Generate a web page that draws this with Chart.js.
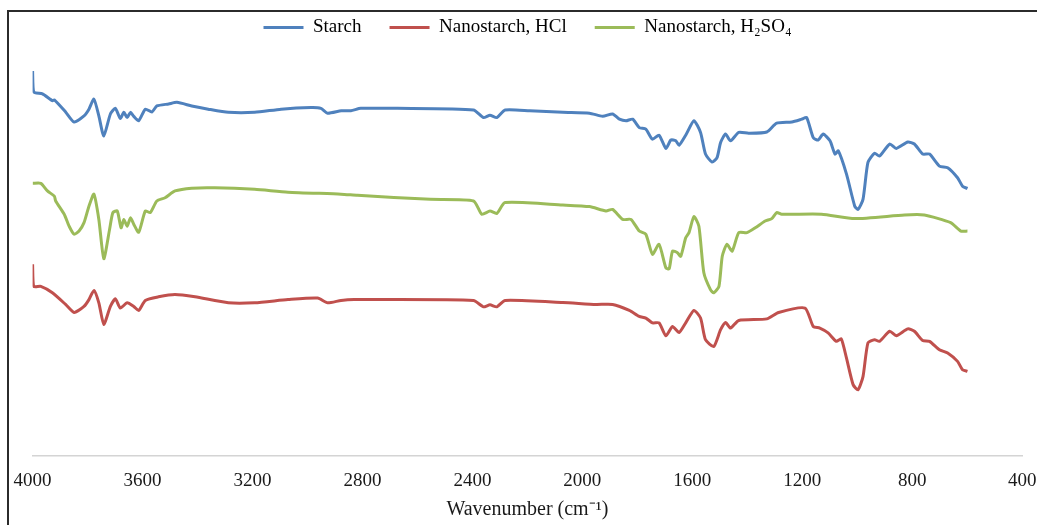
<!DOCTYPE html>
<html>
<head>
<meta charset="utf-8">
<script src="https://cdn.jsdelivr.net/npm/chart.js@4"></script>
<style>
    body { margin: 0; overflow: hidden; background: #fff; }
    #wrap { position: absolute; left: 0; top: -10px; }
    #frame { position: absolute; left: 7px; top: 10px; width: 1200px; height: 700px;
             border: 2px solid #2b2b2b; pointer-events: none; }
</style>
</head>
<body>
<div id="wrap"><canvas id="ftir" width="1050" height="535"></canvas></div>
<div id="frame"></div>
<script>
// FTIR spectra, wavenumber (cm-1) vs transmittance (arbitrary %)
const starchWn = [4000, 3996, 3964, 3928, 3921, 3880, 3849, 3813, 3795, 3777, 3759, 3741, 3717, 3699, 3681, 3668, 3656, 3644, 3632, 3614,
    3590, 3566, 3548, 3505, 3475, 3421, 3361, 3288, 3192, 3096, 2987, 2951, 2927, 2877, 2842, 2806, 2673, 2396, 2360, 2336,
    2311, 2281, 2191, 2071, 1974, 1926, 1890, 1865, 1841, 1817, 1793, 1769, 1745, 1721, 1696, 1678, 1660, 1648, 1624, 1594,
    1570, 1552, 1528, 1510, 1497, 1479, 1461, 1431, 1395, 1329, 1293, 1238, 1202, 1184, 1160, 1142, 1124, 1099, 1081, 1069,
    1039, 1009, 997, 979, 961, 937, 919, 882, 858, 816, 792, 762, 737, 701, 671, 635, 617, 599];
const starchT = [96.0, 90.8, 90.3, 88.6, 88.8, 85.8, 83.3, 84.8, 86.5, 89.0, 84.8, 79.8, 85.3, 86.7, 84.2, 85.7, 84.4, 85.7, 84.7, 83.6,
    86.5, 85.8, 87.3, 87.8, 88.2, 87.3, 86.5, 85.7, 85.7, 86.5, 86.9, 86.7, 85.5, 86.1, 86.1, 86.7, 86.7, 86.3, 84.4, 85.0,
    84.4, 86.3, 86.1, 85.7, 85.5, 84.7, 85.3, 84.0, 83.6, 84.0, 81.9, 81.5, 79.0, 80.0, 76.7, 78.8, 78.6, 77.5, 80.0, 83.6,
    80.7, 75.3, 73.3, 74.4, 78.2, 80.3, 78.6, 80.7, 80.5, 80.8, 83.0, 83.3, 84.0, 84.4, 79.4, 78.8, 80.3, 78.6, 75.3, 76.1,
    70.3, 62.3, 61.5, 64.0, 73.2, 75.5, 74.8, 77.8, 76.7, 78.3, 77.8, 75.3, 75.3, 72.3, 71.9, 69.4, 67.3, 66.7];

const hclWn = [4000, 3996, 3970, 3928, 3880, 3849, 3813, 3795, 3777, 3759, 3741, 3717, 3699, 3681, 3656, 3632, 3614, 3590, 3542, 3482,
    3409, 3288, 3192, 3071, 2963, 2927, 2878, 2830, 2396, 2360, 2336, 2311, 2281, 2071, 1950, 1890, 1829, 1793, 1769, 1745,
    1721, 1696, 1672, 1648, 1624, 1594, 1570, 1552, 1522, 1497, 1479, 1461, 1431, 1329, 1286, 1190, 1160, 1136, 1106, 1076,
    1058, 1039, 1015, 997, 979, 961, 937, 919, 882, 858, 816, 792, 762, 737, 701, 671, 635, 617, 599];
const hclT = [47.8, 42.3, 42.3, 40.7, 37.8, 35.8, 37.3, 39.0, 41.3, 38.2, 32.8, 37.3, 39.2, 36.9, 38.2, 37.3, 36.3, 38.8, 39.7, 40.3,
    39.7, 38.2, 38.2, 39.0, 39.4, 38.2, 38.8, 39.0, 38.8, 37.2, 37.7, 37.2, 38.8, 38.3, 37.8, 37.8, 36.3, 34.8, 34.4, 33.2,
    33.2, 30.0, 32.3, 30.8, 33.2, 36.3, 34.4, 29.0, 27.3, 31.5, 33.3, 31.9, 33.8, 34.2, 35.8, 36.9, 32.3, 31.9, 30.7, 28.6,
    29.2, 24.4, 17.8, 16.5, 19.8, 28.2, 29.0, 28.6, 31.1, 30.0, 31.7, 31.1, 28.8, 28.6, 26.5, 25.7, 23.6, 21.5, 21.1];

const h2so4Wn = [4000, 3970, 3946, 3921, 3916, 3885, 3867, 3849, 3831, 3813, 3795, 3777, 3759, 3741, 3720, 3708, 3692, 3678, 3668, 3656,
    3644, 3632, 3614, 3590, 3572, 3548, 3518, 3482, 3421, 3337, 3192, 3071, 2878, 2818, 2553, 2396, 2366, 2336, 2311, 2281,
    2071, 1974, 1914, 1890, 1853, 1823, 1793, 1769, 1745, 1721, 1696, 1684, 1672, 1654, 1642, 1624, 1612, 1594, 1576, 1558,
    1534, 1522, 1503, 1491, 1474, 1455, 1431, 1401, 1371, 1335, 1311, 1293, 1275, 1130, 1009, 828, 756, 660, 623, 599];
const h2so4T = [68.0, 68.0, 66.1, 64.8, 63.6, 60.3, 57.3, 55.3, 56.1, 58.2, 62.3, 65.3, 59.0, 49.2, 56.5, 60.7, 61.1, 56.9, 59.0, 57.3,
    59.4, 57.8, 55.8, 61.1, 60.7, 63.6, 64.4, 66.1, 66.8, 66.9, 66.5, 65.8, 65.3, 65.0, 64.0, 63.6, 60.3, 61.1, 60.5, 63.2,
    62.6, 62.2, 61.1, 61.5, 59.0, 59.0, 56.1, 55.3, 50.3, 52.8, 46.9, 46.7, 51.1, 50.7, 49.8, 54.4, 55.7, 59.7, 57.3, 45.7,
    41.5, 40.7, 42.3, 49.8, 52.8, 51.1, 55.7, 55.7, 56.9, 58.6, 59.2, 60.7, 60.3, 60.3, 59.2, 60.1, 60.1, 58.2, 56.1, 56.1];

const xTicks = [4000, 3600, 3200, 2800, 2400, 2000, 1600, 1200, 800, 400];

function toPoints(xs, ys) {
    return xs.map((x, i) => ({x: x, y: ys[i]}));
}

function lineSet(label, xs, ys, color) {
    return {
        label: label,
        data: toPoints(xs, ys),
        borderColor: color,
        backgroundColor: color,
        borderWidth: 3,
        pointRadius: 0,
        tension: 0.2,
        fill: false,
    };
}

const serif = "'Liberation Serif', 'Times New Roman', serif";

const config = {
    type: 'line',
    data: {
        datasets: [
            lineSet('Starch', starchWn, starchT, '#4F81BD'),
            lineSet('Nanostarch, HCl', hclWn, hclT, '#C0504D'),
            lineSet('Nanostarch, H\u2082SO\u2084', h2so4Wn, h2so4T, '#9BBB59'),
        ]
    },
    options: {
        responsive: false,
        animation: false,
        layout: { padding: { left: 30, right: 25, top: 0, bottom: 3 } },
        plugins: {
            legend: {
                position: 'top',
                labels: {
                    usePointStyle: true,
                    pointStyle: 'line',
                    pointStyleWidth: 40,
                    padding: 28,
                    color: '#000',
                    font: { family: serif, size: 19 },
                },
            },
            tooltip: { enabled: false },
        },
        scales: {
            x: {
                type: 'linear',
                reverse: true,
                min: 400,
                max: 4000,
                afterBuildTicks: (axis) => {
                    axis.ticks = xTicks.map(v => ({value: v}));
                },
                grid: { display: false, drawTicks: false },
                border: { display: true, color: '#d4d4d4', width: 1.5 },
                ticks: {
                    padding: 13.6,
                    maxRotation: 0,
                    autoSkip: false,
                    color: '#1a1a1a',
                    font: { family: serif, size: 19 },
                    callback: (v) => String(v),
                },
                title: {
                    display: true,
                    text: 'Wavenumber (cm\u207B\u00B9)',
                    color: '#1a1a1a',
                    font: { family: serif, size: 20 },
                    padding: { top: -8, bottom: 0 },
                },
            },
            y: {
                display: false,
                min: 0,
                max: 102,
            },
        },
    },
};

const ctx = document.getElementById('ftir').getContext('2d');
const chart = new Chart(ctx, config);
</script>
</body>
</html>
